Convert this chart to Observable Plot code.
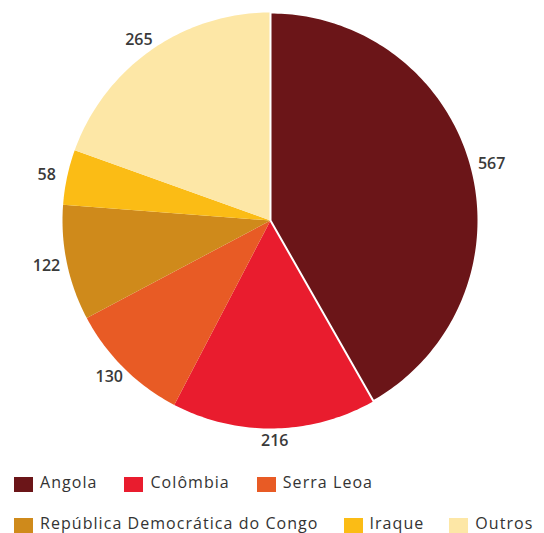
<!DOCTYPE html>
<html>
<head>
<meta charset="utf-8">
<script src="https://cdn.jsdelivr.net/npm/d3@7"></script>
<script src="https://cdn.jsdelivr.net/npm/@observablehq/plot@0.6"></script>
<style>
  html, body { margin: 0; padding: 0; background: #fff; }
  #wrap { width: 544px; height: 533px; position: relative; overflow: hidden; font-family: "Open Sans", sans-serif; }
  #chart svg { display: block; }
  .row { position: absolute; left: 14px; display: flex; gap: 27px; align-items: flex-start; font-size: 16px; color: #333; letter-spacing: 1.05px; }
  .row.r1 { gap: 25px; }
  .item { display: flex; align-items: flex-start; white-space: nowrap; }
  .sw { width: 19px; height: 15px; margin-right: 7px; }
  .tx { line-height: 16px; position: relative; top: -3px; }
</style>
</head>
<body>
<div id="wrap">
  <div id="chart"></div>
  <div id="legend"></div>
</div>
<script>
const categories = ["Angola", "Colômbia", "Serra Leoa", "República Democrática do Congo", "Iraque", "Outros"];
const values = [567, 216, 130, 122, 58, 265];
const colors = ["#6b1518", "#e91c2e", "#e85b25", "#cf8a1b", "#fbbc15", "#fde7a6"];
const legendRows = [["Angola", "Colômbia", "Serra Leoa"], ["República Democrática do Congo", "Iraque", "Outros"]];

const data = categories.map((name, i) => ({name, value: values[i]}));
const arcs = d3.pie().sort(null).value(d => d.value)(data);

// polygon outline of each slice (center, arc, center) in unit-circle coordinates
const pts = [];
for (const a of arcs) {
  const name = a.data.name;
  pts.push({name, x: 0, y: 0});
  const n = Math.max(2, Math.ceil((a.endAngle - a.startAngle) / (Math.PI / 180)));
  for (let k = 0; k <= n; k++) {
    const t = a.startAngle + (a.endAngle - a.startAngle) * k / n;
    pts.push({name, x: Math.sin(t), y: Math.cos(t)});
  }
  pts.push({name, x: 0, y: 0});
}
const labels = arcs.map(a => {
  const t = (a.startAngle + a.endAngle) / 2;
  return {label: String(a.data.value), x: 1.1 * Math.sin(t), y: 1.06 * Math.cos(t)};
});

const chart = Plot.plot({
  width: 544,
  height: 455,
  margin: 0,
  x: {domain: [-1, 1], range: [62, 478], axis: null},
  y: {domain: [-1, 1], range: [428, 12], axis: null},
  color: {domain: categories, range: colors},
  marks: [
    Plot.line(pts, {x: "x", y: "y", z: "name", fill: "name", stroke: "none"}),
    Plot.line(pts.filter(d => d.name === "Angola"), {x: "x", y: "y", fill: "name", stroke: "white", strokeWidth: 2}),
    Plot.text(labels, {x: "x", y: "y", text: "label", fontSize: 16, fontWeight: 600, fill: "#3a3a3a", fontFamily: "Open Sans"})
  ]
});
document.getElementById("chart").appendChild(chart);

const legend = document.getElementById("legend");
const tops = [477, 518];
legendRows.forEach((row, r) => {
  const div = document.createElement("div");
  div.className = "row r" + r;
  div.style.top = tops[r] + "px";
  row.forEach(name => {
    const it = document.createElement("div");
    it.className = "item";
    const sw = document.createElement("div");
    sw.className = "sw";
    sw.style.background = colors[categories.indexOf(name)];
    const tx = document.createElement("span");
    tx.className = "tx";
    tx.textContent = name;
    it.appendChild(sw);
    it.appendChild(tx);
    div.appendChild(it);
  });
  legend.appendChild(div);
});
</script>
</body>
</html>
